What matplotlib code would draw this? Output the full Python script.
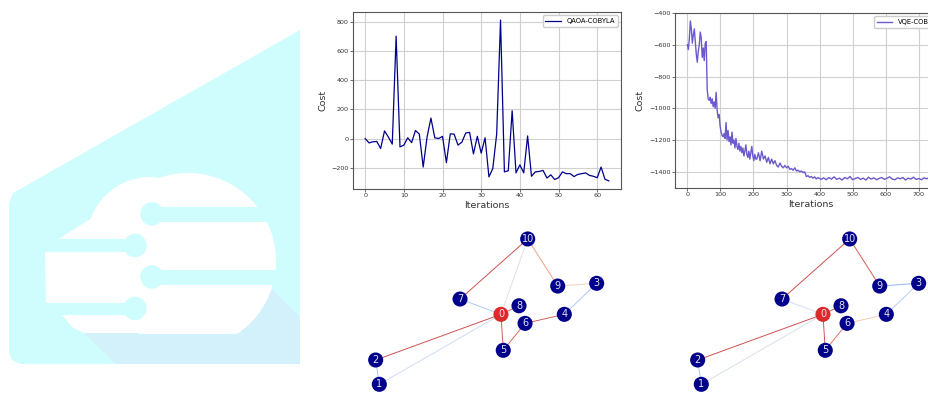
import numpy as np
import matplotlib
matplotlib.use("Agg")
import matplotlib.pyplot as plt
from matplotlib.patches import Polygon, Circle, Rectangle
from matplotlib.colors import Normalize

# ---- data ----
# QAOA cost per iteration
qaoa_cost = [0, -30, -22, -20, -68, 52, 10, -38, 700, -57,
             -45, 5, -28, 55, 30, -195, 10, 140, 5, 0,
             15, -165, 32, 30, -45, -25, 38, 42, -105, 15,
             -100, 5, -262, -205, 30, 810, -228, -220, 190, -235,
             -180, -235, 18, -258, -228, -225, -218, -270, -248, -280,
             -268, -228, -240, -240, -260, -245, -240, -235, -252, -258,
             -268, -195, -278, -290]

# VQE cost at a few sampling steps
vqe_iter = list(range(0, 210, 3)) + list(range(210, 410, 5)) + list(range(412, 750, 8))
vqe_cost = [
    # 0 .. 57
    -600, -630, -560, -450, -500, -590, -540, -500, -580, -660,
    -710, -640, -600, -520, -560, -680, -620, -700, -590, -580,
    # 60 .. 207
    -880, -940, -950, -930, -970, -940, -990, -960, -1000, -900,
    -1010, -1060, -1040, -1110, -1150, -1170, -1180, -1160, -1190, -1090,
    -1200, -1140, -1210, -1180, -1230, -1150, -1220, -1200, -1250, -1190,
    -1240, -1260, -1220, -1270, -1240, -1280, -1250, -1300, -1270, -1230,
    -1290, -1310, -1270, -1320, -1280, -1240, -1300, -1330, -1290, -1320,
    # 210 .. 405
    -1320, -1280, -1330, -1270, -1320, -1300, -1340, -1310, -1350, -1320,
    -1350, -1330, -1360, -1370, -1345, -1365, -1375, -1360, -1375, -1365,
    -1385, -1380, -1390, -1375, -1395, -1390, -1400, -1395, -1405, -1400,
    -1430, -1425, -1435, -1430, -1440, -1432, -1445, -1436, -1442, -1448,
    # 412 .. 748
    -1438, -1450, -1436, -1446, -1432, -1448, -1440, -1452, -1436, -1444,
    -1430, -1450, -1442, -1436, -1448, -1440, -1452, -1434, -1446, -1438,
    -1450, -1442, -1436, -1448, -1440, -1432, -1446, -1450, -1438, -1444,
    -1436, -1452, -1440, -1446, -1434, -1448, -1442, -1450, -1438, -1444,
    -1436, -1448, -1446]

# graph: node layout (layout units) and weighted edges
node_ids = [0, 1, 2, 3, 4, 5, 6, 7, 8, 9, 10]
node_x = [0.136, -0.970, -1.003, 1.006, 0.712, 0.157, 0.355, -0.236, 0.300, 0.652, 0.379]
node_y = [-0.021, -0.657, -0.436, 0.261, -0.021, -0.348, -0.103, 0.118, 0.057, 0.236, 0.664]
edges = [(10, 7), (10, 0), (10, 9), (9, 3), (3, 4), (7, 0), (0, 2),
         (0, 1), (2, 1), (0, 5), (5, 6), (6, 4), (0, 8)]
weights_qaoa = [0.95, 0.48, 0.78, 0.62, 0.30, 0.30, 0.95, 0.42, 0.30, 0.93, 0.90, 0.92, 0.90]
weights_vqe = [0.95, np.nan, 0.93, 0.22, 0.33, 0.43, 0.95, 0.46, 0.30, 0.95, 0.88, 0.63, 0.92]
red_nodes = [0]

W, H = 929, 394
fig = plt.figure(figsize=(W / 100, H / 100), dpi=100)

# ---- logo on the left, drawn in pixel coordinates ----
bg = fig.add_axes([0, 0, 1, 1])
bg.set_xlim(0, W)
bg.set_ylim(H, 0)
bg.axis('off')
cyan = '#cffcfc'
bg.add_patch(Polygon([(300, 30), (300, 364), (20, 364), (12, 360), (9, 352),
                      (9, 203), (13, 193), (22, 188)], closed=True, fc=cyan, ec='none'))
bg.add_patch(Polygon([(84, 333), (116, 364), (300, 364), (300, 317), (272, 289)],
                     closed=True, fc='#d3f1fa', ec='none'))
clip = Rectangle((0, 0), 400, 333.5, transform=bg.transData)
cloud = [Circle((188, 261), 88), Circle((150, 240), 63),
         Polygon([(60, 238), (92, 218), (188, 218), (188, 333), (84, 333), (72, 327),
                  (63, 316), (46, 302), (45, 252)], closed=True)]
for p in cloud:
    p.set_facecolor('white')
    p.set_edgecolor('none')
    bg.add_patch(p)
    p.set_clip_path(clip)
for (x0, y0, w, h) in [(152, 207, 148, 15), (9, 238.5, 126, 13),
                       (152, 269.5, 148, 15.5), (9, 303, 126, 12)]:
    bg.add_patch(Rectangle((x0, y0), w, h, fc=cyan, ec='none'))
for (cx, cy) in [(152, 214), (135, 245.5), (152, 277), (135, 308.5)]:
    bg.add_patch(Circle((cx, cy), 11.7, fc=cyan, ec='none'))


def style_axes(ax):
    ax.grid(True, color='#d0d0d0', lw=0.8)
    ax.set_axisbelow(True)
    ax.tick_params(labelsize=4.6, length=2, width=0.5, pad=1.2, colors='#333333')
    for s in ax.spines.values():
        s.set_color('#555555')
        s.set_linewidth(0.8)
    ax.set_xlabel('Iterations', fontsize=6.8, labelpad=2, color='#333333')
    ax.set_ylabel('Cost', fontsize=6.8, labelpad=3, color='#333333')
    ax.legend(loc='upper right', fontsize=4.9, handlelength=2.3, framealpha=1,
              edgecolor='#cccccc', fancybox=True)


ax1 = fig.add_axes([353 / W, 1 - 189 / H, 268 / W, 177 / H])
ax1.plot(range(len(qaoa_cost)), qaoa_cost, color='darkblue', lw=0.9, label='QAOA-COBYLA')
style_axes(ax1)

ax2 = fig.add_axes([675 / W, 1 - 188 / H, 272 / W, 175 / H])
ax2.plot(vqe_iter, vqe_cost, color='slateblue', lw=1.0, label='VQE-COBYLA')
style_axes(ax2)

# ---- graphs ----
cmap = plt.cm.coolwarm
norm = Normalize(0, 1)
for left, wts in [(354, weights_qaoa), (676, weights_vqe)]:
    g = fig.add_axes([left / W, 0, 264 / W, 170 / H])
    g.set_xlim(-1.2, 1.2)
    g.set_ylim(-0.745, 0.8)
    g.axis('off')
    for (a, b), w in zip(edges, wts):
        if np.isnan(w):
            continue
        g.plot([node_x[a], node_x[b]], [node_y[a], node_y[b]],
               color=cmap(norm(w)), lw=0.7, alpha=0.85, zorder=1)
    cols = ['#dc2a2a' if n in red_nodes else '#00008b' for n in node_ids]
    g.scatter(node_x, node_y, s=118, c=cols, zorder=2, linewidths=0, clip_on=False)
    for n in node_ids:
        g.text(node_x[n], node_y[n], str(n), ha='center', va='center',
               fontsize=7, color='#e4e4f0', zorder=3)

fig.savefig('out.png', dpi=100)
